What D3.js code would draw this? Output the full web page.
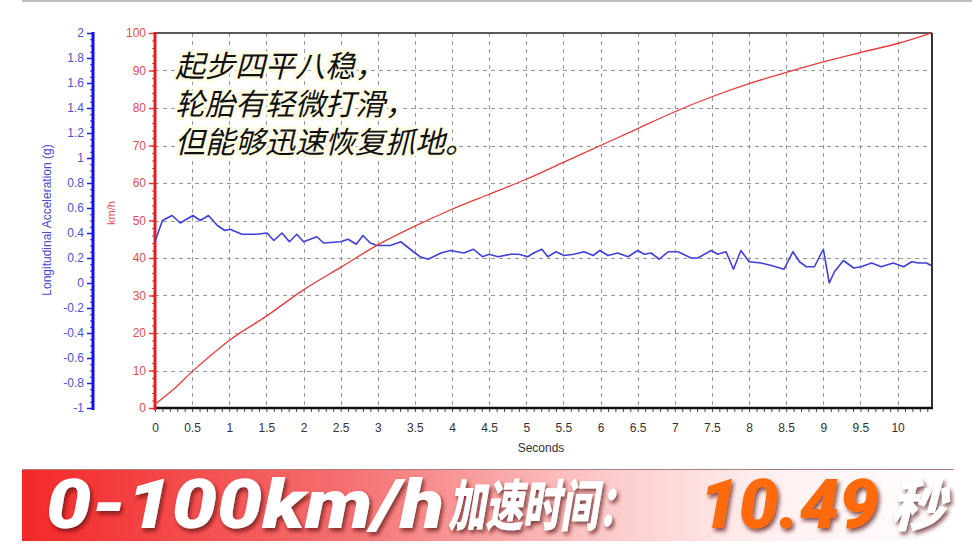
<!DOCTYPE html>
<html>
<head>
<meta charset="utf-8">
<script src="https://cdn.jsdelivr.net/npm/d3@7"></script>
<style>
  body { margin: 0; background: #fff; }
  svg { display: block; font-family: "Liberation Sans", Arial, sans-serif; }
</style>
</head>
<body>
<svg id="chart" width="972" height="544"></svg>
<script>
// acceleration trace (g)
const accelT = [0, 0.1, 0.23, 0.34, 0.51, 0.61, 0.72, 0.84, 0.94, 1.01, 1.17, 1.37, 1.51, 1.6, 1.71, 1.81, 1.91, 2.0, 2.18, 2.27, 2.5, 2.6, 2.71, 2.8, 2.9, 2.99, 3.17, 3.31, 3.48, 3.57, 3.68, 3.85, 3.98, 4.16, 4.29, 4.41, 4.5, 4.62, 4.79, 4.9, 5.02, 5.1, 5.21, 5.29, 5.4, 5.51, 5.64, 5.78, 5.9, 5.99, 6.1, 6.23, 6.37, 6.5, 6.59, 6.68, 6.79, 6.91, 7.04, 7.08, 7.22, 7.31, 7.49, 7.58, 7.69, 7.79, 7.89, 8.0, 8.16, 8.3, 8.47, 8.59, 8.68, 8.77, 8.88, 9.0, 9.08, 9.15, 9.27, 9.41, 9.51, 9.65, 9.78, 9.94, 10.08, 10.19, 10.28, 10.39, 10.45]
const accelG = [0.33, 0.5, 0.54, 0.48, 0.54, 0.5, 0.54, 0.46, 0.42, 0.43, 0.39, 0.39, 0.4, 0.34, 0.4, 0.33, 0.39, 0.33, 0.37, 0.32, 0.33, 0.35, 0.31, 0.38, 0.32, 0.3, 0.3, 0.33, 0.25, 0.21, 0.19, 0.24, 0.26, 0.24, 0.27, 0.21, 0.23, 0.21, 0.23, 0.23, 0.21, 0.24, 0.27, 0.21, 0.25, 0.22, 0.23, 0.25, 0.22, 0.26, 0.22, 0.24, 0.21, 0.26, 0.23, 0.24, 0.19, 0.25, 0.25, 0.24, 0.2, 0.2, 0.26, 0.23, 0.25, 0.11, 0.26, 0.17, 0.16, 0.14, 0.11, 0.25, 0.17, 0.13, 0.13, 0.27, 0.0, 0.09, 0.18, 0.12, 0.13, 0.16, 0.13, 0.16, 0.13, 0.17, 0.16, 0.16, 0.14]

// speed trace (km/h)
const speedT = [0, 0.25, 0.5, 0.75, 1, 1.5, 2, 2.5, 3, 3.5, 4, 4.5, 5, 5.5, 6, 6.5, 7, 7.5, 8, 8.5, 9, 9.5, 10, 10.45]
const speedV = [1, 5, 9.7, 14, 18, 24.5, 31.5, 37.5, 43.5, 48.5, 53, 57, 61, 65.5, 70, 74.5, 79, 83, 86.5, 89.5, 92.3, 94.8, 97.2, 100]

const xTicks = d3.range(0, 10.01, 0.5)
const speedTicks = d3.range(0, 101, 10)
const accelTicks = d3.range(-1, 2.001, 0.2).map(v => Math.round(v * 10) / 10)

const noteLines = ['起步四平八稳，', '轮胎有轻微打滑，', '但能够迅速恢复抓地。']

const svg = d3.select('#chart')
const [pLeft, pRight, pTop, pBottom] = [155, 931, 33, 408]
const blueC = '#4040d8', redC = '#e63c3c'

const x = d3.scaleLinear().domain([0, 10.45]).range([pLeft, pRight])
const yV = d3.scaleLinear().domain([0, 100]).range([pBottom, pTop])
const yG = d3.scaleLinear().domain([-1, 2]).range([pBottom, pTop])

// top gray strip
svg.append('rect').attr('x', 22).attr('y', 0).attr('width', 950).attr('height', 2).attr('fill', '#bdbdbd')

// grid
const grid = svg.append('g').attr('stroke', '#9a9a9a').attr('stroke-dasharray', '4,4').attr('stroke-width', 1)
grid.selectAll('.gx').data(xTicks.filter(d => d > 0)).enter().append('line')
  .attr('x1', d => Math.round(x(d)) + 0.5).attr('x2', d => Math.round(x(d)) + 0.5)
  .attr('y1', pTop).attr('y2', pBottom)
grid.selectAll('.gy').data(speedTicks.filter(d => d > 0 && d < 100)).enter().append('line')
  .attr('x1', pLeft).attr('x2', pRight)
  .attr('y1', d => Math.round(yV(d)) + 0.5).attr('y2', d => Math.round(yV(d)) + 0.5)

// frame top / right
svg.append('line').attr('x1', pLeft).attr('x2', pRight + 1).attr('y1', pTop).attr('y2', pTop).attr('stroke', '#222').attr('stroke-width', 1.5)
svg.append('line').attr('x1', pRight + 1).attr('x2', pRight + 1).attr('y1', pTop).attr('y2', pBottom).attr('stroke', '#333').attr('stroke-width', 2)

// x axis
const xAxis = svg.append('g').attr('transform', `translate(0,${pBottom})`)
  .call(d3.axisBottom(x).tickValues(d3.range(0, 10.45, 0.1)).tickSize(4).tickFormat(''))
xAxis.select('.domain').remove()
xAxis.selectAll('line').attr('stroke', '#444')
svg.append('line').attr('x1', pLeft).attr('x2', pRight + 2).attr('y1', pBottom).attr('y2', pBottom).attr('stroke', '#111').attr('stroke-width', 2.5)
const xLab = svg.append('g').attr('transform', `translate(0,${pBottom})`)
  .call(d3.axisBottom(x).tickValues(xTicks).tickSize(0).tickPadding(15).tickFormat(d => String(d)))
xLab.select('.domain').remove()
xLab.selectAll('text').attr('fill', '#333').style('font-size', '12px')
svg.append('text').attr('x', 541).attr('y', 452).attr('text-anchor', 'middle')
  .attr('fill', '#333').style('font-size', '12px').text('Seconds')

// speed axis (red)
const vMinor = svg.append('g').attr('transform', `translate(${pLeft},0)`)
  .call(d3.axisLeft(yV).tickValues(d3.range(0, 101, 2)).tickSize(3).tickFormat(''))
vMinor.select('.domain').remove()
vMinor.selectAll('line').attr('stroke', redC)
const vAxis = svg.append('g').attr('transform', `translate(${pLeft},0)`)
  .call(d3.axisLeft(yV).tickValues(speedTicks).tickSize(6).tickPadding(3).tickFormat(d => String(d)))
vAxis.select('.domain').remove()
vAxis.selectAll('line').attr('stroke', redC).attr('stroke-width', 1.5)
vAxis.selectAll('text').attr('fill', '#e05050').style('font-size', '12px')
svg.append('line').attr('x1', pLeft).attr('x2', pLeft).attr('y1', pTop - 1).attr('y2', pBottom + 2)
  .attr('stroke', '#e02020').attr('stroke-width', 3)
svg.append('text').attr('transform', `translate(115,213) rotate(-90)`).attr('text-anchor', 'middle')
  .attr('fill', '#e05050').style('font-size', '11px').text('km/h')

// acceleration axis (blue)
const gAxisX = 93
const gMinor = svg.append('g').attr('transform', `translate(${gAxisX},0)`)
  .call(d3.axisLeft(yG).tickValues(d3.range(-1, 2.001, 0.05)).tickSize(3).tickFormat(''))
gMinor.select('.domain').remove()
gMinor.selectAll('line').attr('stroke', '#2020e0')
const gAxis = svg.append('g').attr('transform', `translate(${gAxisX},0)`)
  .call(d3.axisLeft(yG).tickValues(accelTicks).tickSize(6).tickPadding(3).tickFormat(d => String(d)))
gAxis.select('.domain').remove()
gAxis.selectAll('line').attr('stroke', '#2020e0').attr('stroke-width', 1.5)
gAxis.selectAll('text').attr('fill', '#5050d0').style('font-size', '12px')
svg.append('line').attr('x1', gAxisX).attr('x2', gAxisX).attr('y1', pTop - 1).attr('y2', pBottom + 2)
  .attr('stroke', '#1010e8').attr('stroke-width', 3)
svg.append('text').attr('transform', `translate(51,220) rotate(-90)`).attr('text-anchor', 'middle')
  .attr('fill', '#4848d0').style('font-size', '12px').text('Longitudinal Acceleration (g)')

// traces
const accelLine = d3.line().x((d, i) => x(accelT[i])).y(d => yG(d))
svg.append('path').datum(accelG).attr('d', accelLine)
  .attr('fill', 'none').attr('stroke', blueC).attr('stroke-width', 1.6).attr('stroke-linejoin', 'round')
const speedLine = d3.line().x((d, i) => x(speedT[i])).y(d => yV(d)).curve(d3.curveMonotoneX)
svg.append('path').datum(speedV).attr('d', speedLine)
  .attr('fill', 'none').attr('stroke', redC).attr('stroke-width', 1.3)

// note
const note = svg.append('g').style('font-family', '"Noto Sans CJK SC", sans-serif')
  .style('font-size', '30px').style('font-style', 'italic')
note.selectAll('text').data(noteLines).enter().append('text')
  .attr('x', 175).attr('y', (d, i) => 77 + i * 38)
  .attr('fill', '#111').attr('stroke', '#fffce6').attr('stroke-width', 6)
  .attr('stroke-linejoin', 'round').style('paint-order', 'stroke')
  .text(d => d)

// banner
const defs = svg.append('defs')
const grad = defs.append('linearGradient').attr('id', 'bannerGrad').attr('x1', '0').attr('x2', '1')
grad.append('stop').attr('offset', '0').attr('stop-color', '#f42828')
grad.append('stop').attr('offset', '0.35').attr('stop-color', '#f57070')
grad.append('stop').attr('offset', '0.6').attr('stop-color', '#fcc4c4')
grad.append('stop').attr('offset', '0.8').attr('stop-color', '#fff0f0')
grad.append('stop').attr('offset', '1').attr('stop-color', '#ffffff')
const shadow = defs.append('filter').attr('id', 'shadow').attr('x', '-10%').attr('y', '-20%').attr('width', '120%').attr('height', '150%')
shadow.append('feDropShadow').attr('dx', 2).attr('dy', 3).attr('stdDeviation', 2).attr('flood-color', '#5a1010').attr('flood-opacity', 0.75)

svg.append('rect').attr('x', 22).attr('y', 469).attr('width', 932).attr('height', 72).attr('fill', 'url(#bannerGrad)')
svg.append('line').attr('x1', 22).attr('x2', 954).attr('y1', 469.5).attr('y2', 469.5).attr('stroke', '#b08080')

const big = svg.append('g').attr('filter', 'url(#shadow)').style('font-style', 'italic').style('font-weight', 900)
big.append('text').attr('x', 46).attr('y', 528).attr('fill', '#fff')
  .style('font-family', 'Roboto, "Liberation Sans", sans-serif').style('font-size', '68px')
  .attr('textLength', 398).attr('lengthAdjust', 'spacingAndGlyphs').text('0-100km/h')
big.append('text').attr('transform', 'translate(448,526) scale(0.78,1.16)').attr('fill', '#fff')
  .style('font-family', '"Noto Sans CJK SC", sans-serif').style('font-size', '48px')
  .text('加速时间：')
big.append('text').attr('x', 699).attr('y', 528).attr('fill', '#ff6a08')
  .style('font-family', 'Roboto, "Liberation Sans", sans-serif').style('font-size', '68px')
  .attr('textLength', 180).attr('lengthAdjust', 'spacingAndGlyphs').text('10.49')
big.append('text').attr('transform', 'translate(890,526) scale(1.15,1.16)').attr('fill', '#fff')
  .style('font-family', '"Noto Sans CJK SC", sans-serif').style('font-size', '48px')
  .text('秒')
</script>
</body>
</html>
